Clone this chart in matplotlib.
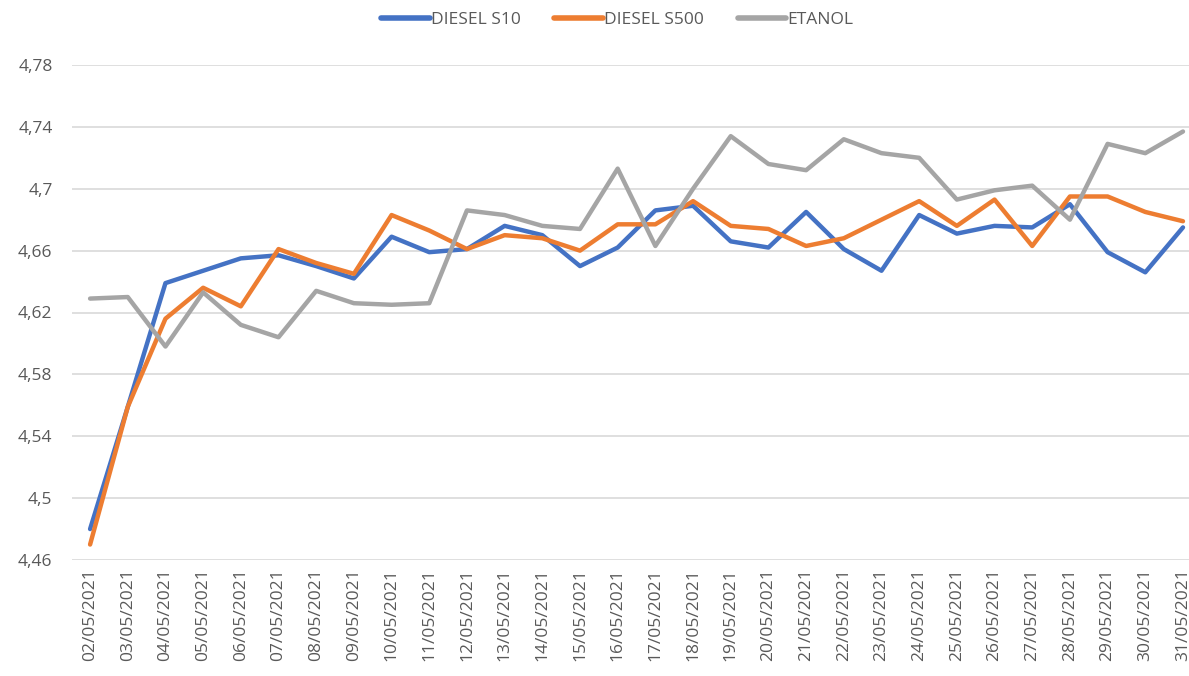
import matplotlib
matplotlib.use("Agg")
import matplotlib.pyplot as plt
from matplotlib.ticker import FuncFormatter

dates = ["02/05/2021", "03/05/2021", "04/05/2021", "05/05/2021", "06/05/2021",
         "07/05/2021", "08/05/2021", "09/05/2021", "10/05/2021", "11/05/2021",
         "12/05/2021", "13/05/2021", "14/05/2021", "15/05/2021", "16/05/2021",
         "17/05/2021", "18/05/2021", "19/05/2021", "20/05/2021", "21/05/2021",
         "22/05/2021", "23/05/2021", "24/05/2021", "25/05/2021", "26/05/2021",
         "27/05/2021", "28/05/2021", "29/05/2021", "30/05/2021", "31/05/2021"]

diesel_s10 = [4.480, 4.559, 4.639, 4.647, 4.655, 4.657, 4.650, 4.642, 4.669, 4.659,
              4.661, 4.676, 4.670, 4.650, 4.662, 4.686, 4.689, 4.666, 4.662, 4.685,
              4.661, 4.647, 4.683, 4.671, 4.676, 4.675, 4.690, 4.659, 4.646, 4.675]

diesel_s500 = [4.470, 4.559, 4.616, 4.636, 4.624, 4.661, 4.652, 4.645, 4.683, 4.673,
               4.661, 4.670, 4.668, 4.660, 4.677, 4.677, 4.692, 4.676, 4.674, 4.663,
               4.668, 4.680, 4.692, 4.676, 4.693, 4.663, 4.695, 4.695, 4.685, 4.679]

etanol = [4.629, 4.630, 4.598, 4.633, 4.612, 4.604, 4.634, 4.626, 4.625, 4.626,
          4.686, 4.683, 4.676, 4.674, 4.713, 4.663, 4.700, 4.734, 4.716, 4.712,
          4.732, 4.723, 4.720, 4.693, 4.699, 4.702, 4.680, 4.729, 4.723, 4.737]

series_names = ["DIESEL S10", "DIESEL S500", "ETANOL"]
colors = ["#4472C4", "#ED7D31", "#A5A5A5"]

font = ["Open Sans", "DejaVu Sans"]
plt.rcParams["font.family"] = font

fig = plt.figure(figsize=(11.89, 6.76), dpi=100)
ax = fig.add_axes([72/1189, 1 - 560/676, 1 - 72/1189, (560 - 65)/676])

x = list(range(len(dates)))
for vals, name, c in zip([diesel_s10, diesel_s500, etanol], series_names, colors):
    ax.plot(x, vals, color=c, lw=3.2, label=name, solid_capstyle="round",
            solid_joinstyle="round", clip_on=False)

ax.set_ylim(4.46, 4.78)
ax.set_yticks([4.46, 4.50, 4.54, 4.58, 4.62, 4.66, 4.70, 4.74, 4.78])

def fmt(v, pos):
    s = ("%.2f" % v).rstrip("0").rstrip(".")
    return s.replace(".", ",")

ax.yaxis.set_major_formatter(FuncFormatter(fmt))
ax.set_xlim(-0.48, 29.16)
ax.set_xticks(x)
ax.set_xticklabels(dates, rotation=90)

ax.grid(axis="y", color="#D9D9D9", lw=1.2)
ax.set_axisbelow(True)
for s in ax.spines.values():
    s.set_visible(False)
ax.tick_params(axis="both", length=0, colors="#595959", labelsize=12.5)
ax.tick_params(axis="y", pad=14)
ax.tick_params(axis="x", pad=6)

leg = fig.legend(loc="upper center", bbox_to_anchor=(0.519, 1.005), ncol=3,
                 frameon=False, fontsize=12.5, handlelength=2.8,
                 handletextpad=0.05, columnspacing=1.95, labelcolor="#595959")
for h in leg.legend_handles:
    h.set_linewidth(4)

fig.savefig("out.png", dpi=100)
